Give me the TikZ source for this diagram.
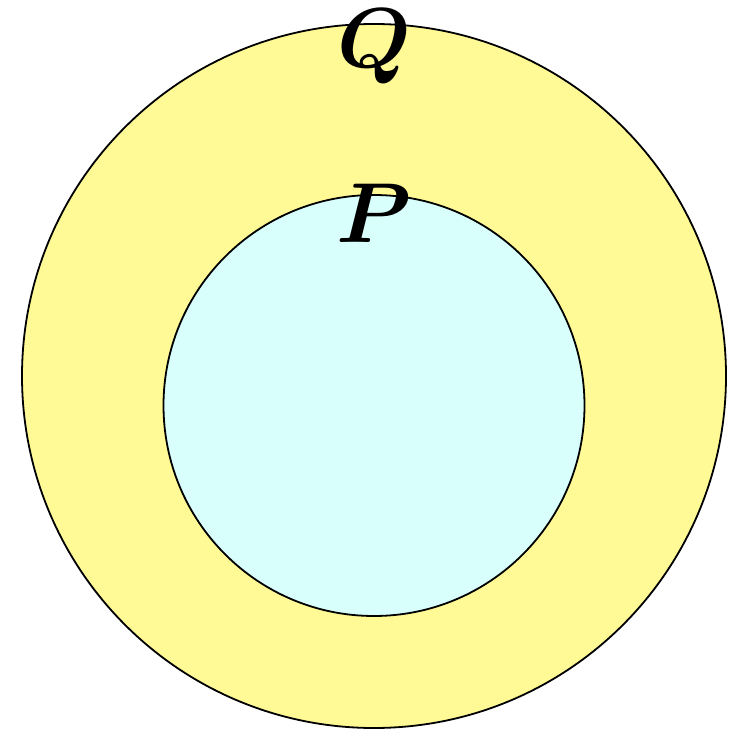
\documentclass[tikz,border=0pt]{standalone}
\usepackage{amsmath,bm,graphicx}
\definecolor{outerfill}{RGB}{255,250,150}
\definecolor{innerfill}{RGB}{216,255,252}
\begin{document}
\begin{tikzpicture}[x=1pt,y=-1pt,
  ring/.style={draw=black,line width=1.8pt},
  lbl/.style={inner sep=0pt}]
\useasboundingbox (0,0) rectangle (736,730);
\node[ring,circle,fill=outerfill,minimum size=704pt,inner sep=0pt] (Qc) at (374,376) {};
\node[ring,circle,fill=innerfill,minimum size=421pt,inner sep=0pt] (Pc) at (374,405.5) {};
\node[lbl,anchor=base] (Q) at (374,68) {\scalebox{8.5}{$\bm{Q}$}};
\node[lbl,anchor=base] (P) at (374,242) {\scalebox{8.5}{$\bm{P}$}};
\end{tikzpicture}
\end{document}
